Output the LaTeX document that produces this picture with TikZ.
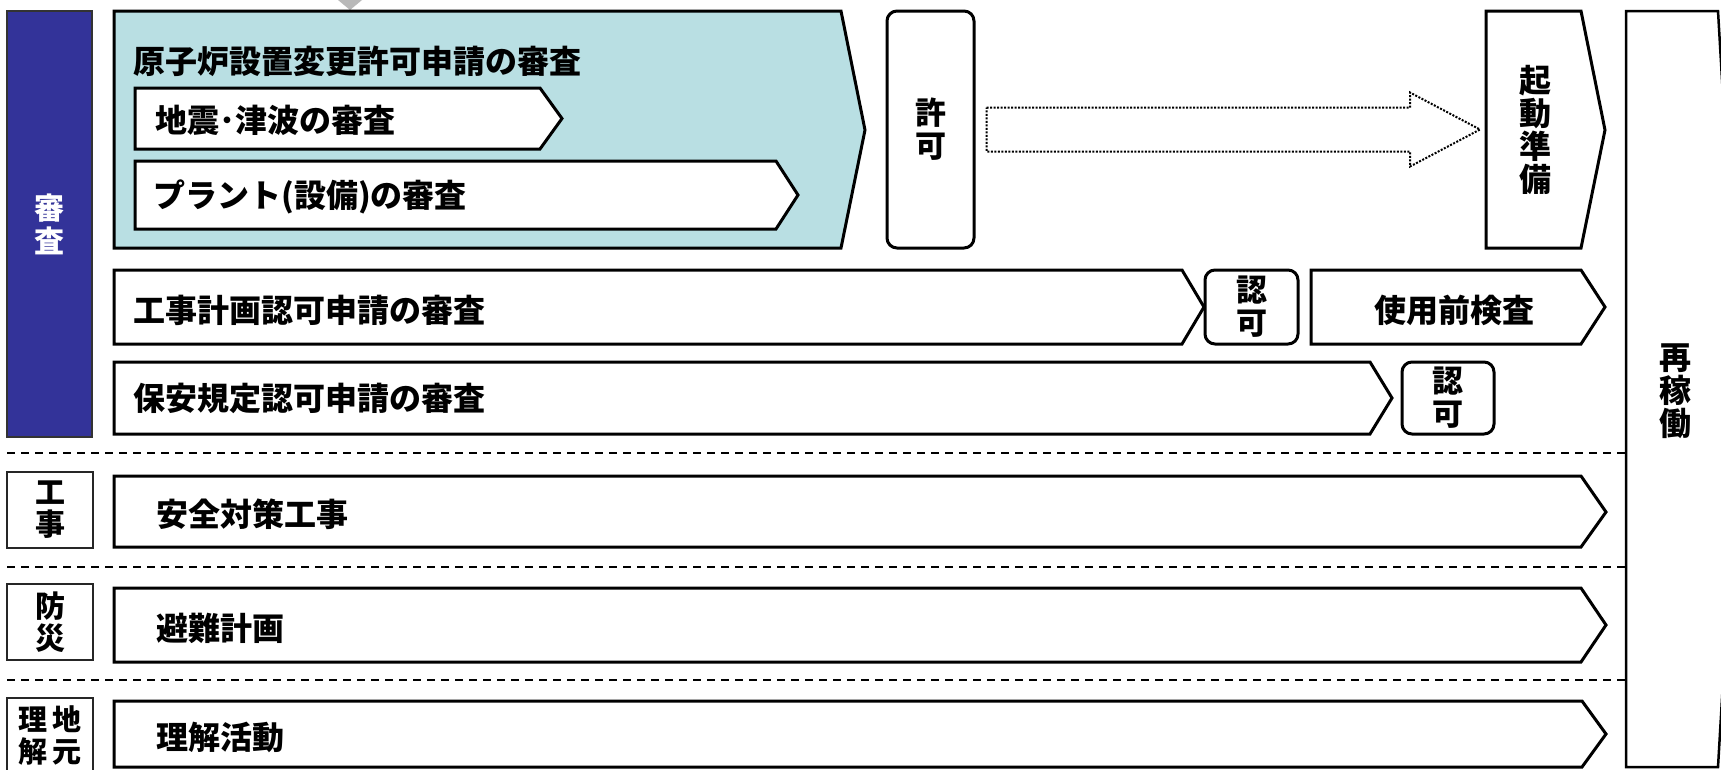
\documentclass[tikz,border=0pt]{standalone}
\usepackage{fontspec}
\newfontfamily\jp{Noto Sans CJK JP}
\usetikzlibrary{calc}
\definecolor{bandblue}{HTML}{333399}
\definecolor{lightteal}{HTML}{B9DFE3}
\tikzset{
  pent/.style={draw=black,line width=3pt,fill=white,line join=miter},
  jtxt/.style={font=\jp\bfseries\fontsize{32}{33}\selectfont,inner sep=0pt,align=center},
  rbox/.style={draw=black,line width=3pt,rounded corners=10pt,fill=white,inner sep=0pt,align=center,
     font=\jp\bfseries\fontsize{31}{33}\selectfont},
  lbox/.style={draw=black!85,line width=1.5pt,fill=white,inner sep=0pt,align=center,
     font=\jp\bfseries\fontsize{30}{32}\selectfont},
  sep/.style={line width=1.5pt,dash pattern=on 8pt off 6pt},
  dotarrow/.style={draw=black,line width=2pt,dash pattern=on 2pt off 1.5pt,line join=miter},
}
\begin{document}
\begin{tikzpicture}[x=1pt,y=-1pt]
\clip (0,0) rectangle (1721,769);
\fill[white] (0,0) rectangle (1721,769);
% gray triangle at top
\fill[gray!55] (338,0) -- (362,0) -- (350,10) -- cycle;
% blue band
\node[draw=black!80,line width=1.5pt,fill=bandblue,minimum width=85pt,minimum height=426pt,inner sep=0pt,
  text=white,align=center,font=\jp\bfseries\fontsize{30}{33}\selectfont] (shinsa) at (49.5,224) {審\\査};
% main teal pentagon
\draw[pent,fill=lightteal] (114,11) -- (841,11) -- (865,130) -- (841,248) -- (114,248) -- cycle;
\node[jtxt,anchor=west] (title) at (133,61) {原子炉設置変更許可申請の審査};
\draw[pent] (135,88) -- (540,88) -- (562,118.5) -- (540,149) -- (135,149) -- cycle;
\node[jtxt,anchor=west] (jishin) at (155,120) {地震･津波の審査};
\draw[pent] (135,161) -- (776,161) -- (798,195) -- (776,229) -- (135,229) -- cycle;
\node[jtxt,anchor=west] (plant) at (153,197) {プラント(設備)の審査};
% kyoka box
\node[rbox,minimum width=87pt,minimum height=237pt] (kyoka) at (930.5,129.5) {許\\可};
% kidou junbi
\draw[pent] (1486,11) -- (1581,11) -- (1605,130) -- (1581,248) -- (1486,248) -- cycle;
\coordinate (kidouW) at (1486,129.5);
\node[jtxt] (kidou) at (1535,129.5) {起\\動\\準\\備};
% dotted hollow arrow
\coordinate (as) at ($(kyoka.east)+(11,0)$);
\coordinate (ae) at ($(kidouW)+(-6,0)$);
\coordinate (hb) at ($(ae)+(-70,0)$);
\draw[dotarrow] ($(as)+(0,-22)$) -- ($(hb)+(0,-22)$) -- ($(hb)+(0,-37)$) -- (ae)
   -- ($(hb)+(0,37)$) -- ($(hb)+(0,22)$) -- ($(as)+(0,22)$) -- cycle;
% saikadou
\draw[draw=black,line width=2.5pt,fill=white] (1626,11) -- (1718,11) -- (1740,389) -- (1718,767) -- (1626,767) -- cycle;
\node[jtxt] (saikadou) at (1675,391) {再\\稼\\働};
% koji keikaku
\draw[pent] (114,270) -- (1182,270) -- (1204,307) -- (1182,344) -- (114,344) -- cycle;
\node[jtxt,anchor=west] (kojikeikaku) at (133,310) {工事計画認可申請の審査};
\node[rbox,minimum width=93pt,minimum height=74pt] (ninka1) at (1251.5,307) {認\\可};
\draw[pent] (1311,270) -- (1581,270) -- (1605,307) -- (1581,344) -- (1311,344) -- cycle;
\node[jtxt] (shiyoumae) at (1454,310) {使用前検査};
% hoan kitei
\draw[pent] (114,362) -- (1370,362) -- (1392,398) -- (1370,434) -- (114,434) -- cycle;
\node[jtxt,anchor=west] (hoan) at (133,398) {保安規定認可申請の審査};
\node[rbox,minimum width=92pt,minimum height=72pt] (ninka2) at (1448,398) {認\\可};
% separators
\draw[sep] (7,453) -- (1626,453);
\draw[sep] (7,567) -- (1626,567);
\draw[sep] (7,680) -- (1626,680);
% koji
\node[lbox,minimum width=86pt,minimum height=76pt] (koji) at (50,510) {工\\事};
\draw[pent] (114,476) -- (1581,476) -- (1606,512) -- (1581,547) -- (114,547) -- cycle;
\node[jtxt,anchor=west] (anzen) at (156,514) {安全対策工事};
% bousai
\node[lbox,minimum width=86pt,minimum height=76pt] (bousai) at (50,622) {防\\災};
\draw[pent] (114,588) -- (1581,588) -- (1606,625) -- (1581,662) -- (114,662) -- cycle;
\node[jtxt,anchor=west] (hinan) at (156,628) {避難計画};
% jimoto
\node[lbox,minimum width=86pt,minimum height=74pt,font=\jp\bfseries\fontsize{29}{32}\selectfont] (jimoto) at (50,735) {理\,地\\解\,元};
\draw[pent] (114,701) -- (1582,701) -- (1606,734) -- (1582,767) -- (114,767) -- cycle;
\node[jtxt,anchor=west] (rikai) at (156,737) {理解活動};
\end{tikzpicture}
\end{document}
